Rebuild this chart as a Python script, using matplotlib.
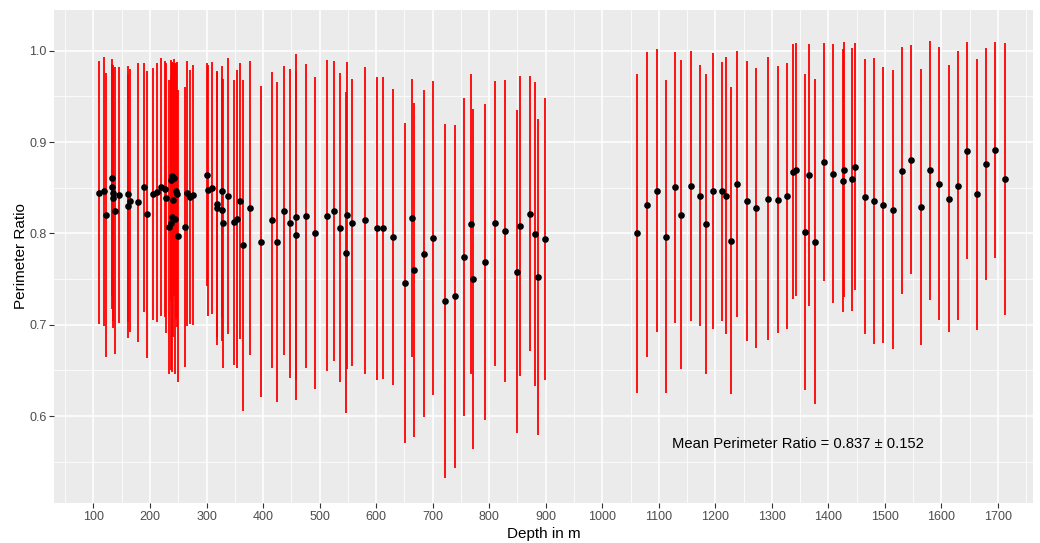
import matplotlib
matplotlib.use("Agg")
import matplotlib.pyplot as plt
import numpy as np

# ---- data ----
depth = [110.3, 118.0, 122.7, 132.1, 132.1, 133.9, 133.9, 138.0, 145.7, 160.4,
         161.6, 164.6, 178.7, 189.3, 195.2, 205.3, 212.3, 218.8, 227.1, 228.3,
         234.2, 236.5, 237.7, 239.5, 241.8, 239.5, 243.6, 241.2, 246.0, 247.1,
         248.9, 261.6, 266.0, 271.0, 276.3, 301.0, 302.3, 310.2, 319.0, 319.0,
         327.3, 327.3, 328.5, 337.4, 348.0, 353.5, 360.0, 365.0, 376.3, 397.0,
         415.0, 425.5, 436.4, 447.6, 458.8, 458.8, 475.3, 491.8, 513.6, 524.8,
         536.0, 546.6, 548.4, 557.9, 580.0, 601.3, 612.8, 629.3, 650.5, 663.0,
         666.4, 684.4, 700.3, 721.8, 738.9, 755.4, 768.4, 772.0, 792.6, 810.3,
         827.4, 848.6, 855.1, 871.6, 881.6, 886.4, 898.7,
         1060.9, 1079.1, 1096.2, 1112.2, 1128.7, 1139.3, 1156.4, 1172.3, 1183.5, 1195.3,
         1211.2, 1219.5, 1227.7, 1238.4, 1255.5, 1271.4, 1293.8, 1310.3, 1326.8, 1337.4,
         1343.3, 1358.6, 1365.1, 1375.7, 1391.7, 1408.2, 1425.3, 1427.6, 1441.8, 1447.1,
         1464.2, 1480.7, 1497.2, 1513.7, 1530.2, 1546.7, 1563.3, 1579.8, 1596.3, 1612.8,
         1629.3, 1645.8, 1662.3, 1678.2, 1694.7, 1711.8]

mean_ratio = [0.8445, 0.846, 0.820, 0.861, 0.851, 0.844, 0.8385, 0.825, 0.842, 0.830,
              0.843, 0.836, 0.834, 0.8505, 0.821, 0.843, 0.845, 0.851, 0.849, 0.839,
              0.807, 0.811, 0.858, 0.863, 0.861, 0.818, 0.816, 0.837, 0.846, 0.843,
              0.797, 0.807, 0.844, 0.840, 0.842, 0.864, 0.847, 0.850, 0.832, 0.828,
              0.846, 0.826, 0.811, 0.841, 0.812, 0.8155, 0.836, 0.787, 0.828, 0.791,
              0.815, 0.791, 0.825, 0.811, 0.818, 0.798, 0.819, 0.8005, 0.8195, 0.8246,
              0.8064, 0.779, 0.820, 0.8115, 0.8144, 0.8056, 0.806, 0.796, 0.746, 0.8166,
              0.760, 0.7776, 0.7947, 0.7262, 0.7313, 0.7739, 0.810, 0.750, 0.769, 0.811,
              0.8024, 0.7583, 0.8082, 0.8213, 0.7991, 0.7524, 0.794,
              0.800, 0.8316, 0.8469, 0.7966, 0.8505, 0.8206, 0.8523, 0.8414, 0.8104, 0.8469,
              0.8461, 0.8414, 0.7922, 0.8542, 0.8356, 0.8283, 0.8381, 0.837, 0.8414, 0.8677,
              0.8695, 0.8017, 0.864, 0.7911, 0.8782, 0.8655, 0.8578, 0.8699, 0.8593, 0.8728,
              0.8403, 0.8356, 0.8312, 0.8261, 0.8688, 0.8808, 0.829, 0.8691, 0.8545, 0.8378,
              0.8523, 0.8906, 0.8429, 0.8761, 0.8914, 0.8596]

sd_ratio = [0.144, 0.147, 0.155, 0.130, 0.134, 0.140, 0.142, 0.157, 0.140, 0.144,
            0.140, 0.144, 0.153, 0.136, 0.157, 0.138, 0.142, 0.141, 0.140, 0.148,
            0.161, 0.160, 0.132, 0.125, 0.130, 0.170, 0.170, 0.150, 0.140, 0.145,
            0.160, 0.153, 0.145, 0.139, 0.142, 0.122, 0.137, 0.138, 0.145, 0.150,
            0.137, 0.144, 0.158, 0.151, 0.156, 0.163, 0.151, 0.181, 0.161, 0.170,
            0.162, 0.175, 0.158, 0.169, 0.178, 0.180, 0.166, 0.171, 0.170, 0.164,
            0.169, 0.176, 0.168, 0.157, 0.168, 0.166, 0.165, 0.162, 0.175, 0.152,
            0.183, 0.179, 0.172, 0.194, 0.1875, 0.174, 0.164, 0.186, 0.173, 0.156,
            0.165, 0.177, 0.1645, 0.1505, 0.1665, 0.173, 0.154,
            0.1747, 0.167, 0.1553, 0.1709, 0.1484, 0.1692, 0.1477, 0.1432, 0.1643, 0.151,
            0.1417, 0.1515, 0.1678, 0.1459, 0.1532, 0.1532, 0.1548, 0.1462, 0.1455, 0.1397,
            0.1384, 0.1729, 0.1437, 0.1778, 0.1298, 0.1417, 0.1442, 0.1395, 0.1441, 0.135,
            0.1506, 0.1565, 0.1514, 0.153, 0.135, 0.1253, 0.1512, 0.1417, 0.1492, 0.146,
            0.1468, 0.1187, 0.1483, 0.1271, 0.1185, 0.1487]

x_ticks = list(range(100, 1800, 100))
y_ticks = [0.6, 0.7, 0.8, 0.9, 1.0]
annotation = "Mean Perimeter Ratio = 0.837 \u00b1 0.152"
x_label = "Depth in m"
y_label = "Perimeter Ratio"

# ---- plot ----
plt.rcParams['font.family'] = ['Liberation Sans', 'DejaVu Sans']
fig = plt.figure(figsize=(10.4, 5.43), dpi=100)
ax = fig.add_axes([54.3 / 1040, 1 - 503 / 543, (1033 - 54.3) / 1040, (503 - 9.5) / 543])
ax.set_facecolor('#EBEBEB')

d = np.array(depth)
m = np.array(mean_ratio)
s = np.array(sd_ratio)
ax.vlines(d, m - s, m + s, colors='#FF0000', linewidth=1.3, zorder=3)
ax.plot(d, m, 'o', color='black', markersize=4.8, markeredgewidth=0, zorder=4)

ax.text(1346, 0.57, annotation, ha='center', va='center', fontsize=10.6, color='black', zorder=5)

ax.set_xlim(30.7, 1762)
ax.set_ylim(0.505, 1.045)
ax.set_xticks(x_ticks)
ax.set_xticks(np.arange(50, 1800, 100), minor=True)
ax.set_yticks(y_ticks)
ax.set_yticklabels([f"{v:.1f}" for v in y_ticks])
ax.set_yticks(np.arange(0.55, 1.0, 0.1), minor=True)
ax.grid(which='major', color='white', linewidth=1.1, zorder=0)
ax.grid(which='minor', color='white', linewidth=0.55, zorder=0)
ax.set_axisbelow(True)
for sp in ax.spines.values():
    sp.set_visible(False)
ax.tick_params(which='major', length=3.5, width=0.8, color='#333333', labelcolor='#4D4D4D',
               labelsize=9, pad=2)
ax.tick_params(which='minor', length=0)
ax.set_xlabel(x_label, fontsize=11, color='black', labelpad=3)
ax.set_ylabel(y_label, fontsize=11, color='black', labelpad=1)

fig.savefig('out.png', dpi=100, facecolor='white')
